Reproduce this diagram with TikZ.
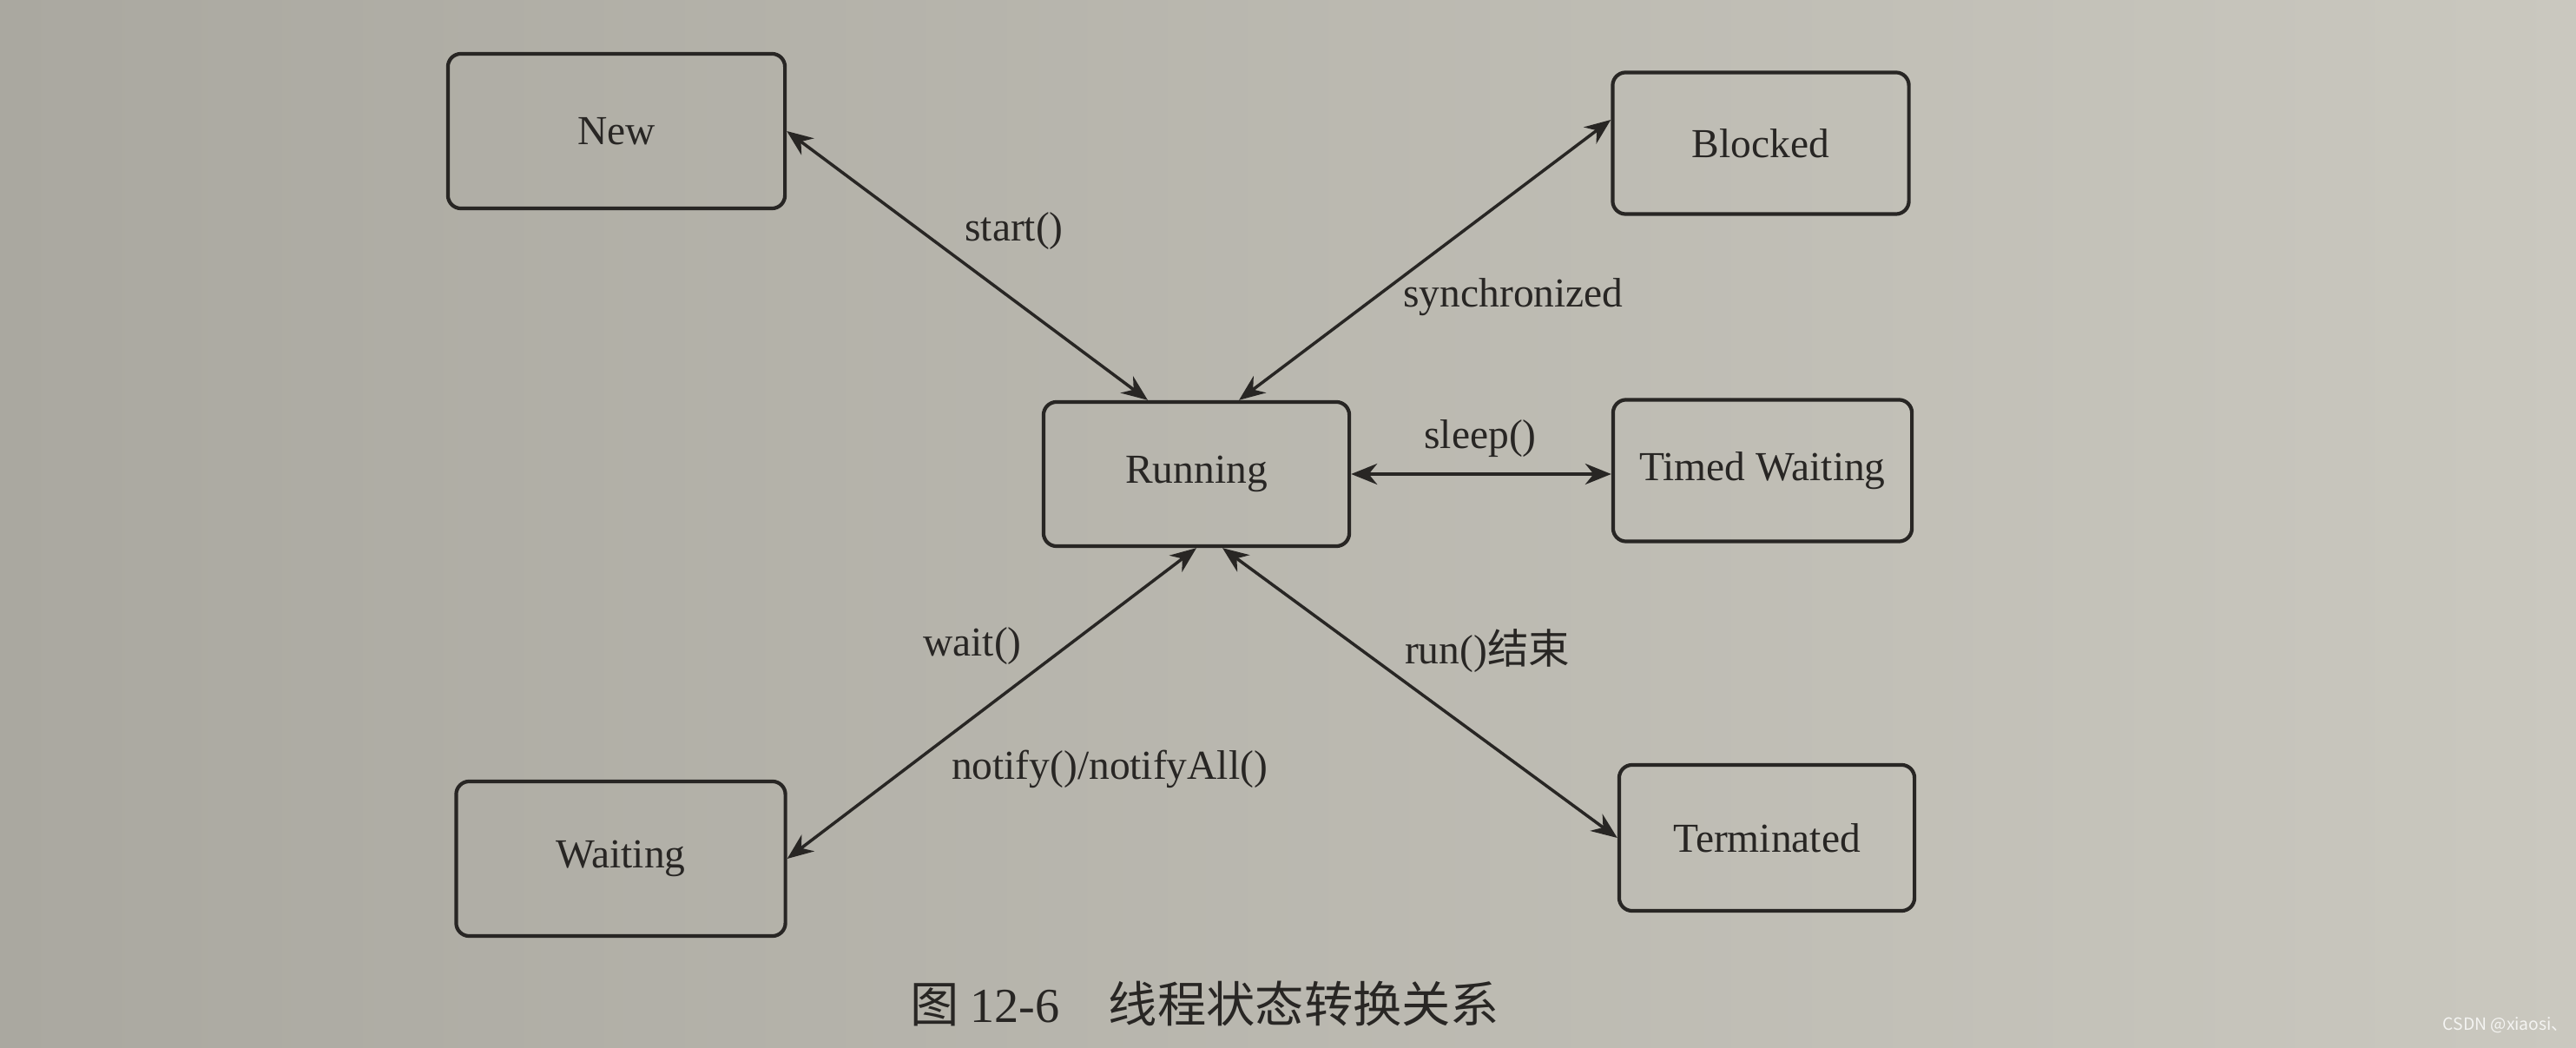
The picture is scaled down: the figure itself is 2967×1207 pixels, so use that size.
\documentclass[tikz,border=0pt]{standalone}
\usepackage{fontspec}
\setmainfont{Liberation Serif}
\newfontfamily\cjk{Noto Sans CJK SC}
\usepackage{tikz}
\usetikzlibrary{arrows.meta}
\definecolor{paperL}{RGB}{170,168,160}
\definecolor{paperR}{RGB}{202,200,191}
\definecolor{ink}{RGB}{40,38,36}

\begin{document}
\begin{tikzpicture}[x=0.01cm, y=-0.01cm,
    >={Stealth[length=0.3cm, width=0.24cm]},
    state/.style={draw=ink, line width=1.2pt, rounded corners=0.15cm, text=ink,
        font=\fontsize{13.5}{16}\selectfont},
    trans/.style={<->, draw=ink, line width=1pt},
    lbl/.style={text=ink, font=\fontsize{13.5}{16}\selectfont}]
    % Page
    \useasboundingbox (0,0) rectangle (2967,1207);
    \shade[left color=paperL, right color=paperR] (0,0) rectangle (2967,1207);

    % States
    \foreach \name/\x/\y/\w/\h/\txt in {new/710/151/3.88/1.78/New,
            blocked/2028/165/3.41/1.63/Blocked,
            running/1378/546/3.52/1.66/Running,
            timed/2030/542/3.44/1.63/Timed Waiting,
            waiting/715/989/3.79/1.78/Waiting,
            terminated/2035/965/3.40/1.68/Terminated} {
        \node[state, minimum width=\w cm, minimum height=\h cm] (\name) at (\x,\y) {\txt};
    }

    % Transitions
    \draw[trans] (new.east) -- ([xshift=-0.56cm]running.north);
    \draw[trans] ([yshift=0.27cm]blocked.west) -- ([xshift=0.49cm]running.north);
    \draw[trans] (running.east) -- (running.east -| timed.west);
    \draw[trans] (waiting.east) -- (running.south);
    \draw[trans] (terminated.west) -- ([xshift=0.3cm]running.south);

    % Labels
    \node[lbl] (l-start) at (1168,266) {start()};
    \node[lbl] (l-sync) at (1743,342) {synchronized};
    \node[lbl] (l-sleep) at (1705,505) {sleep()};
    \node[lbl] (l-wait) at (1120,744) {wait()};
    \node[lbl] (l-run) at (1713,750) {run()\cjk 结束};
    \node[lbl] (l-notify) at (1278,886) {notify()/notifyAll()};

    % Caption
    \node[text=ink, anchor=west, inner sep=0pt, font=\fontsize{16}{19}\selectfont]
        (caption) at (1048,1156) {\cjk 图\ \rmfamily 12-6\hspace{1em}\cjk 线程状态转换关系};
    \node[text=white!80!paperR, font=\cjk\fontsize{5.5}{6}\selectfont] (mark) at (2886,1181) {CSDN @xiaosi、};
\end{tikzpicture}
\end{document}
